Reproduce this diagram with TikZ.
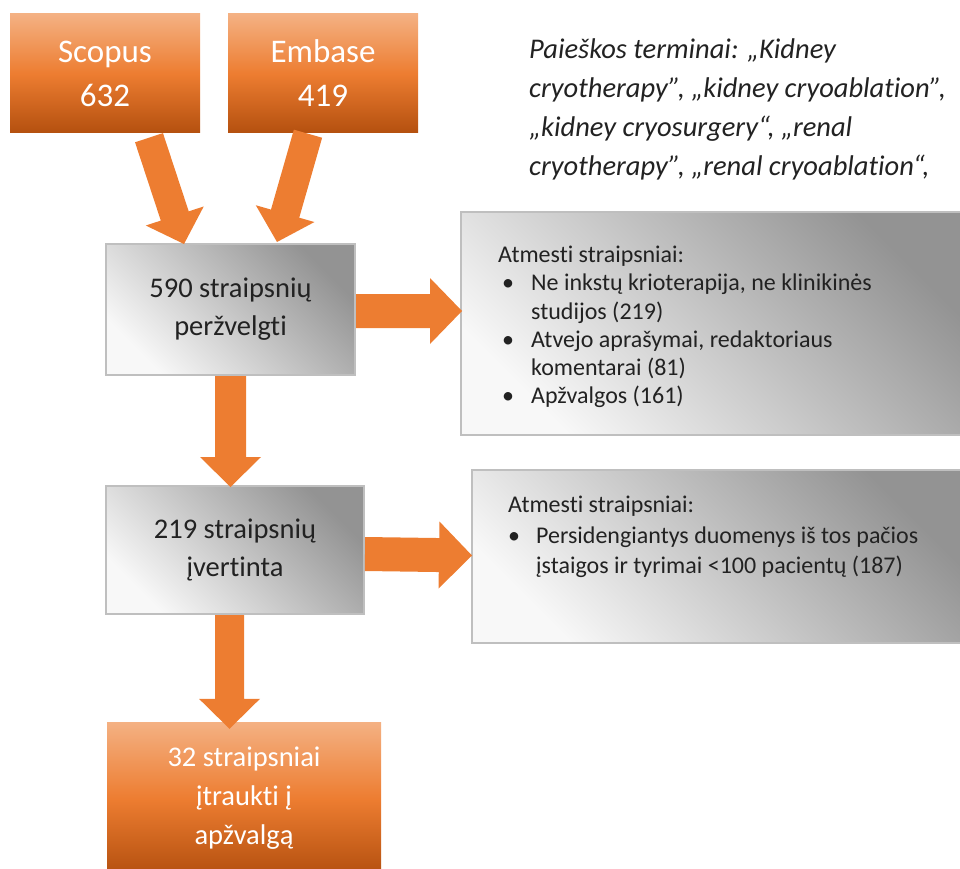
\documentclass[tikz,border=0pt]{standalone}
\usepackage{fontspec}
\setmainfont{Carlito}[Ligatures=NoCommon]
\usetikzlibrary{calc}
\definecolor{orA}{HTML}{F4B183}
\definecolor{orB}{HTML}{ED7D31}
\definecolor{orC}{HTML}{B4500F}
\definecolor{grA}{HTML}{939393}
\definecolor{grB}{HTML}{F8F8F8}
\definecolor{grLine}{HTML}{BFBFBF}
\definecolor{txtc}{HTML}{222222}
\definecolor{arrc}{HTML}{ED7D31}
\newcommand{\blockarr}[5]{%
  \coordinate (hb) at ($(#2)!#5!(#1)$);
  \fill[arrowfill] ($(#1)!#3!90:(#2)$) -- ($(hb)!#3!90:(#2)$) -- ($(hb)!#4!90:(#2)$) -- (#2)
    -- ($(hb)!#4!-90:(#2)$) -- ($(hb)!#3!-90:(#2)$) -- ($(#1)!#3!-90:(#2)$) -- cycle;}
\begin{document}
\begin{tikzpicture}[x=1pt,y=-1pt,
  graybox/.style={draw=grLine, line width=2pt, top color=grA, bottom color=grB, shading angle=-45, inner sep=0pt, text=txtc, align=center},
  orangebox/.style={top color=orA, bottom color=orC, middle color=orB, inner sep=0pt, text=white, align=center},
  arrowfill/.style={fill=arrc},
  bigtxt/.style={font=\fontsize{33}{44}\selectfont},
  midtxt/.style={font=\fontsize{28.5}{38}\selectfont},
  smalltxt/.style={font=\fontsize{24}{28.2}\selectfont},
  listtxt/.style={inner sep=0pt, align=left, text=txtc, anchor=north west}]
\useasboundingbox (0,0) rectangle (960,869);
\clip (0,0) rectangle (960,869);
% source boxes
\node[orangebox, bigtxt, minimum width=190pt, minimum height=119pt] (scopus) at (105,73.5) {Scopus\\632};
\node[orangebox, bigtxt, minimum width=190pt, minimum height=119pt] (embase) at (323,73.5) {Embase\\419};
% search terms
\node[inner sep=0pt, align=left, anchor=north west, text=txtc, font=\fontsize{28.5}{38.7}\selectfont\itshape] (terms) at (529,39)
 {Paieškos terminai: „Kidney\\cryotherapy”, „kidney cryoablation”,\\„kidney cryosurgery“, „renal\\cryotherapy”, „renal cryoablation“,};
% main flow boxes
\node[graybox, midtxt, minimum width=249pt, minimum height=131pt] (b590) at (230.5,309.5) {590 straipsnių\\peržvelgti};
\node[graybox, midtxt, minimum width=258pt, minimum height=128pt] (b219) at (235,550) {219 straipsnių\\įvertinta};
\node[orangebox, font=\fontsize{28.5}{39}\selectfont, minimum width=274pt, minimum height=153pt] (final) at (244,798.5) {32 straipsniai\\įtraukti į\\apžvalgą};
% excluded boxes
\node[graybox, minimum width=504pt, minimum height=223pt] (r1) at (713,323.5) {};
\node[graybox, minimum width=493pt, minimum height=173pt] (r2) at (718.5,556.5) {};
\node[listtxt, smalltxt] (r1t) at ([xshift=38pt,yshift=-35pt]r1.north west)
 {Atmesti straipsniai:\\
  \hspace*{4pt}\makebox[29pt][l]{•}Ne inkstų krioterapija, ne klinikinės\\
  \hspace*{33pt}studijos (219)\\
  \hspace*{4pt}\makebox[29pt][l]{•}Atvejo aprašymai, redaktoriaus\\
  \hspace*{33pt}komentarai (81)\\
  \hspace*{4pt}\makebox[29pt][l]{•}Apžvalgos (161)};
\node[listtxt, font=\fontsize{24}{30.5}\selectfont] (r2t) at ([xshift=37pt,yshift=-27pt]r2.north west)
 {Atmesti straipsniai:\\
  \hspace*{0pt}\makebox[28pt][l]{•}Persidengiantys duomenys iš tos pačios\\
  \hspace*{28pt}įstaigos ir tyrimai <100 pacientų (187)};
% arrows
\coordinate (a1s) at ([xshift=44pt,yshift=-4.5pt]scopus.south);
\coordinate (a1t) at ([xshift=-46.5pt,yshift=-1pt]b590.north);
\coordinate (a2s) at ([xshift=-15pt,yshift=-0.5pt]embase.south);
\coordinate (a2t) at ([xshift=46.5pt,yshift=1pt]b590.north);
\coordinate (a3s) at ([yshift=-1.5pt]b590.east);
\coordinate (a3t) at ([xshift=2pt,yshift=12.5pt]r1.west);
\coordinate (a4t) at ([xshift=-4.5pt,yshift=-2pt]b219.north);
\coordinate (a5s) at ([yshift=-4pt]b219.east);
\coordinate (a5t) at ([xshift=1pt,yshift=1pt]r2.west);
\coordinate (a6s) at ([xshift=-5.5pt]b219.south);
\coordinate (a6t) at ([xshift=-14.5pt,yshift=-7pt]final.north);
\blockarr{a1s}{a1t}{14.7pt}{30.5pt}{29.5pt}
\blockarr{a2s}{a2t}{14.7pt}{30.5pt}{29.5pt}
\blockarr{a3s}{a3t}{17pt}{33pt}{32pt}
\blockarr{b590.south}{a4t}{15.5pt}{30.5pt}{30pt}
\blockarr{a5s}{a5t}{17pt}{33.5pt}{33pt}
\blockarr{a6s}{a6t}{14.5pt}{30.5pt}{30pt}
\end{tikzpicture}
\end{document}
